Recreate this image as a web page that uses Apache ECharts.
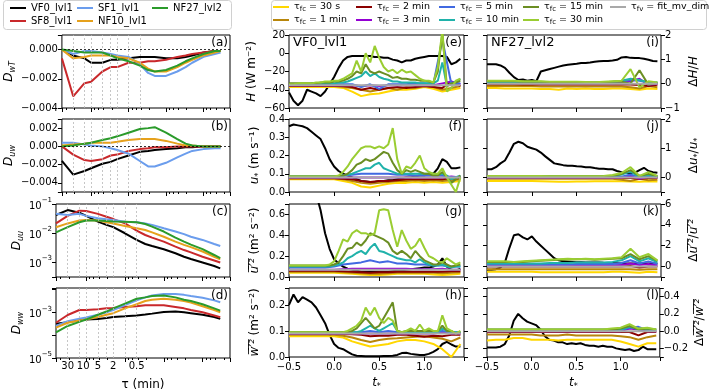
<!DOCTYPE html>
<html>
<head>
<meta charset="utf-8">
<script src="https://cdn.jsdelivr.net/npm/echarts@6/dist/echarts.min.js"></script>
<style>
html, body { margin: 0; padding: 0; background: #fff; }
#chart { width: 709px; height: 392px; }
</style>
</head>
<body>
<div id="chart"></div>
<script>
// ---------- data: left column, D(tau) per site ----------
var tau = [60, 30, 15, 10, 5, 3, 2, 1, 0.5, 0.3, 0.2, 0.1, 0.05, 0.03, 0.02, 0.01, 0.005, 0.0035];
var tauMarks = [30, 15, 10, 5, 3, 2, 1, 0.5];
var tauMarkLabels = ['30', '', '10', '5', '', '2', '', '0.5'];
var sites = ['VF0_lvl1', 'SF8_lvl1', 'SF1_lvl1', 'NF10_lvl1', 'NF27_lvl2'];

var dwT_VF0 = [0, -0.0004, -0.0006, -0.0009, -0.0009, -0.0007, -0.0007, -0.0006, -0.0005, -0.0005, -0.0005, -0.0006, -0.0006, -0.0005, -0.0004, -0.0002, -0.0001, -0.0001];
var dwT_SF8 = [-0.0006, -0.0032, -0.0023, -0.0022, -0.0015, -0.0012, -0.0012, -0.0009, -0.0009, -0.0008, -0.0008, -0.0007, -0.0005, -0.0004, -0.0003, -0.0002, -0.0001, -0.0001];
var dwT_SF1 = [0, -0.0003, -0.0001, -0.0001, -0.0002, -0.0003, -0.0004, -0.0005, -0.001, -0.0016, -0.0018, -0.0018, -0.0015, -0.0012, -0.0009, -0.0005, -0.0003, -0.0002];
var dwT_NF10 = [0, -0.0006, -0.0005, -0.0004, -0.0004, -0.0004, -0.0005, -0.0006, -0.0009, -0.0013, -0.0015, -0.0015, -0.0012, -0.0009, -0.0007, -0.0004, -0.0002, -0.0001];
var dwT_NF27 = [0, -0.0001, -0.0002, -0.0002, -0.0002, -0.0004, -0.0006, -0.0008, -0.0011, -0.0014, -0.0015, -0.0014, -0.0011, -0.0008, -0.0006, -0.0003, -0.0001, -0.0001];

var duw_VF0 = [-0.0016, -0.0031, -0.0027, -0.0024, -0.0019, -0.0017, -0.0014, -0.001, -0.0006, -0.0005, -0.0004, -0.0003, -0.0002, -0.0001, -0.0001, 0, 0, 0];
var duw_SF8 = [0, -0.0009, -0.0015, -0.0016, -0.0014, -0.001, -0.0009, -0.0005, -0.0003, -0.0002, -0.0001, -0.0001, 0, 0, 0, 0, 0, 0];
var duw_SF1 = [0.0004, 0.0004, 0.0002, 0.0001, 0, -0.0002, -0.0004, -0.0008, -0.0016, -0.0022, -0.0022, -0.0018, -0.0012, -0.0008, -0.0005, -0.0003, -0.0002, -0.0002];
var duw_NF10 = [0.0001, 0.0002, 0.0003, 0.0004, 0.0004, 0.0004, 0.0005, 0.0007, 0.0008, 0.0008, 0.0008, 0.0006, 0.0003, 0.0001, 0.0001, 0, 0, 0];
var duw_NF27 = [0, 0.0001, 0.0003, 0.0004, 0.0007, 0.0009, 0.0011, 0.0015, 0.0019, 0.002, 0.0021, 0.0015, 0.0008, 0.0003, 0.0001, 0, 0, 0];

// log10 of D_uu and D_ww
var logDuu_VF0 = [-1.38, -1.21, -1.30, -1.41, -1.61, -1.72, -1.80, -2.01, -2.24, -2.38, -2.45, -2.56, -2.70, -2.82, -2.90, -3.02, -3.14, -3.22];
var logDuu_SF8 = [-1.67, -1.41, -1.23, -1.24, -1.34, -1.44, -1.52, -1.67, -1.92, -2.07, -2.16, -2.30, -2.47, -2.59, -2.67, -2.82, -2.95, -3.02];
var logDuu_SF1 = [-1.34, -1.38, -1.34, -1.41, -1.49, -1.53, -1.55, -1.61, -1.63, -1.67, -1.72, -1.84, -1.95, -2.04, -2.13, -2.24, -2.38, -2.45];
var logDuu_NF10 = [-1.80, -1.67, -1.57, -1.55, -1.57, -1.63, -1.67, -1.76, -1.84, -1.90, -1.98, -2.13, -2.30, -2.41, -2.49, -2.64, -2.82, -2.91];
var logDuu_NF27 = [-1.98, -1.80, -1.63, -1.57, -1.57, -1.59, -1.60, -1.61, -1.63, -1.69, -1.78, -1.95, -2.16, -2.30, -2.40, -2.56, -2.76, -2.87];

var logDww_VF0 = [-3.50, -3.44, -3.35, -3.32, -3.29, -3.25, -3.21, -3.18, -3.14, -3.10, -3.06, -2.99, -2.97, -3.00, -3.04, -3.11, -3.21, -3.29];
var logDww_SF8 = [-3.46, -3.12, -2.90, -2.90, -2.87, -2.83, -2.81, -2.77, -2.74, -2.69, -2.69, -2.69, -2.77, -2.83, -2.90, -3.00, -3.14, -3.22];
var logDww_SF1 = [-3.60, -3.39, -3.28, -3.23, -3.11, -3.00, -2.90, -2.69, -2.48, -2.35, -2.27, -2.20, -2.20, -2.24, -2.29, -2.37, -2.48, -2.56];
var logDww_NF10 = [-3.67, -3.46, -3.36, -3.32, -3.21, -3.11, -3.04, -2.83, -2.65, -2.51, -2.45, -2.41, -2.45, -2.51, -2.58, -2.74, -2.90, -3.00];
var logDww_NF27 = [-3.88, -3.60, -3.42, -3.32, -3.11, -2.97, -2.83, -2.62, -2.41, -2.35, -2.29, -2.27, -2.35, -2.45, -2.51, -2.65, -2.83, -2.93];

// ---------- data: time series (t*) ----------
var tFine = [-0.5, -0.45, -0.4, -0.35, -0.3, -0.25, -0.2, -0.15, -0.1, -0.05, 0, 0.05, 0.1, 0.15, 0.2, 0.25, 0.3, 0.35, 0.4, 0.45, 0.5, 0.55, 0.6, 0.65, 0.7, 0.75, 0.8, 0.85, 0.9, 0.95, 1.0, 1.05, 1.1, 1.15, 1.2, 1.25, 1.3, 1.35, 1.4];
var tCoarse = [-0.5, -0.4, -0.3, -0.2, -0.1, 0, 0.1, 0.2, 0.3, 0.4, 0.5, 0.6, 0.7, 0.8, 0.9, 1.0, 1.1, 1.2, 1.3, 1.4];

// H (e)
var H_obs = [-43, -52, -57, -52, -40, -42, -44, -47, -42, -34, -26, -16, -8, -4, -3, -3, -3, -3, -3, -4, -4, -5, -5, -7, -8, -10, -8, -8, -6, -5, -4, -3, -3, -3, -3, -4, -12, -10, -6];
var H_30m = [-34, -34, -33, -33, -33, -33, -32, -32, -31, -31, -30, -30, -28, -25, -22, -8, -20, 0, -10, 8, -5, -15, -20, -18, -22, -18, -21, -20, -24, -28, -30, -30, -32, -15, 25, -42, -38, -30, -28];
var H_15m = [-33, -33, -33, -33, -33, -33, -33, -32, -32, -32, -31, -31, -30, -28, -25, -20, -22, -12, -20, -22, -20, -22, -24, -27, -26, -28, -28, -29, -29, -30, -30, -31, -32, -20, 22, -36, -33, -32, -30];
var H_10m = [-34, -34, -34, -34, -34, -33, -33, -33, -33, -33, -33, -32, -32, -31, -29, -27, -25, -20, -25, -22, -26, -28, -29, -31, -31, -32, -32, -32, -32, -33, -33, -33, -33, -30, -10, -36, -33, -31, -28];
var H_5m = [-34, -34, -34, -34, -34, -34, -34, -34, -37, -34, -39, -34, -34, -34, -33, -33, -34, 15, -34, -33];
var H_3m = [-35, -35, -35, -35, -35, -35, -35, -35, -36, -35, -36, -35, -35, -35, -35, -35, -35, -33, -31, -34];
var H_2m = [-36, -36, -36, -36, -36, -36, -36, -37, -40, -38, -40, -38, -37, -38, -37, -36, -37, -38, -31, -36];
var H_1m = [-36, -36, -36, -36, -36, -36, -37, -38, -40, -42, -40, -38, -40, -37, -38, -36, -37, -40, -38, -36];
var H_30s = [-37, -37, -37, -37, -37, -37, -38, -42, -47, -45, -44, -42, -40, -40, -39, -37, -39, -42, -40, -38];
var H_fv = [-35, -35, -35, -35, -35, -35, -35, -35, -35, -35, -35, -35, -35, -35, -35, -35, -35, -35, -35, -35];

// dH/H (i)
var dH_obs = [0.8, 0.8, 0.8, 0.75, 0.65, 0.45, 0.27, 0.15, 0.17, 0.12, 0.15, 0.1, 0.5, 0.55, 0.6, 0.65, 0.7, 0.75, 0.78, 0.8, 0.82, 0.85, 0.85, 0.87, 0.9, 0.92, 0.93, 0.93, 0.95, 0.98, 1.08, 1.1, 1.06, 1.05, 1.05, 1.02, 0.98, 0.93, 0.92];
var dH_30m = [0.12, 0.12, 0.12, 0.12, 0.1, 0.1, 0.1, 0.08, 0.08, 0.08, 0.08, 0.07, 0.06, 0.08, 0.1, 0.12, 0.6, -0.15, 0.1, 0.05];
var dH_15m = [0.1, 0.1, 0.1, 0.1, 0.08, 0.08, 0.08, 0.06, 0.06, 0.06, 0.06, 0.05, 0.05, 0.06, 0.08, 0.08, 0.0, 0.55, -0.05, 0.05];
var dH_10m = [0.05, 0.05, 0.05, 0.05, 0.04, 0.04, 0.04, 0.04, 0.04, 0.04, 0.04, 0.04, 0.04, 0.05, 0.08, 0.12, 0.2, 0.15, 0.05, 0.05];
var dH_5m = [0.05, 0.05, 0.05, 0.04, 0.04, 0.04, 0.04, 0.04, 0.04, 0.04, 0.04, 0.04, 0.04, 0.05, 0.06, 0.1, 0.15, 0.12, 0.05, 0.03];
var dH_3m = [0.02, 0.02, 0.02, 0.02, 0.02, 0.02, 0.02, 0.02, 0.02, 0.02, 0.02, 0.02, 0.02, 0.02, 0.02, 0.05, 0.1, 0.2, -0.05, 0.0];
var dH_2m = [-0.02, -0.02, -0.02, -0.02, -0.03, -0.03, -0.03, -0.03, -0.03, -0.03, -0.03, -0.03, -0.03, -0.03, -0.03, -0.03, -0.03, -0.05, -0.1, -0.05];
var dH_1m = [-0.1, -0.1, -0.1, -0.1, -0.1, -0.1, -0.12, -0.12, -0.12, -0.12, -0.12, -0.12, -0.12, -0.12, -0.12, -0.12, -0.15, -0.2, -0.1, -0.15];
var dH_30s = [-0.18, -0.18, -0.2, -0.2, -0.2, -0.2, -0.22, -0.22, -0.25, -0.2, -0.22, -0.2, -0.22, -0.22, -0.2, -0.2, -0.22, -0.25, -0.2, -0.22];
var dH_fv = [0, 0, 0, 0, 0, 0, 0, 0, 0, 0, 0, 0, 0, 0, 0, 0, 0, 0, 0, 0];

// u* (f)
var us_obs = [0.36, 0.37, 0.365, 0.36, 0.35, 0.33, 0.31, 0.29, 0.24, 0.18, 0.14, 0.115, 0.1, 0.09, 0.08, 0.07, 0.06, 0.058, 0.055, 0.055, 0.06, 0.06, 0.065, 0.065, 0.07, 0.075, 0.08, 0.08, 0.085, 0.09, 0.09, 0.1, 0.1, 0.13, 0.18, 0.165, 0.13, 0.13, 0.135];
var us_30m = [0.085, 0.085, 0.085, 0.085, 0.085, 0.085, 0.085, 0.085, 0.085, 0.085, 0.085, 0.09, 0.11, 0.14, 0.18, 0.21, 0.24, 0.25, 0.25, 0.24, 0.25, 0.24, 0.26, 0.35, 0.18, 0.1, 0.14, 0.13, 0.16, 0.2, 0.13, 0.11, 0.1, 0.1, 0.13, 0.08, 0.04, 0.0, 0.08];
var us_15m = [0.085, 0.085, 0.085, 0.085, 0.085, 0.085, 0.085, 0.085, 0.085, 0.085, 0.085, 0.088, 0.09, 0.1, 0.12, 0.15, 0.16, 0.18, 0.17, 0.18, 0.2, 0.22, 0.21, 0.16, 0.12, 0.1, 0.12, 0.11, 0.12, 0.11, 0.1, 0.1, 0.09, 0.09, 0.11, 0.08, 0.05, 0.07, 0.09];
var us_10m = [0.085, 0.085, 0.085, 0.085, 0.085, 0.085, 0.085, 0.085, 0.085, 0.085, 0.085, 0.085, 0.09, 0.095, 0.1, 0.11, 0.12, 0.13, 0.13, 0.15, 0.16, 0.13, 0.12, 0.11, 0.1, 0.1, 0.1, 0.1, 0.1, 0.1, 0.1, 0.1, 0.1, 0.095, 0.1, 0.09, 0.07, 0.08, 0.09];
var us_5m = [0.085, 0.085, 0.085, 0.085, 0.085, 0.085, 0.09, 0.095, 0.1, 0.1, 0.1, 0.1, 0.095, 0.095, 0.09, 0.09, 0.09, 0.09, 0.08, 0.085];
var us_3m = [0.08, 0.08, 0.08, 0.08, 0.08, 0.08, 0.08, 0.08, 0.08, 0.08, 0.08, 0.08, 0.08, 0.08, 0.08, 0.08, 0.08, 0.08, 0.085, 0.08];
var us_2m = [0.075, 0.075, 0.075, 0.075, 0.075, 0.075, 0.072, 0.07, 0.06, 0.055, 0.06, 0.06, 0.065, 0.07, 0.07, 0.07, 0.07, 0.07, 0.075, 0.075];
var us_1m = [0.075, 0.075, 0.075, 0.075, 0.075, 0.075, 0.07, 0.06, 0.05, 0.045, 0.05, 0.055, 0.06, 0.06, 0.065, 0.06, 0.065, 0.06, 0.065, 0.07];
var us_30s = [0.07, 0.07, 0.07, 0.07, 0.07, 0.07, 0.06, 0.05, 0.03, 0.025, 0.035, 0.045, 0.05, 0.05, 0.055, 0.05, 0.055, 0.05, 0.055, 0.06];
var us_fv = [0.08, 0.08, 0.08, 0.08, 0.08, 0.08, 0.08, 0.08, 0.08, 0.08, 0.08, 0.08, 0.08, 0.08, 0.08, 0.08, 0.08, 0.08, 0.08, 0.08];

// du*/u* (j)
var dus_obs = [0.28, 0.28, 0.35, 0.48, 0.58, 0.85, 1.15, 1.22, 1.17, 1.05, 1.0, 0.95, 0.85, 0.72, 0.6, 0.48, 0.45, 0.42, 0.4, 0.4, 0.38, 0.37, 0.35, 0.35, 0.32, 0.3, 0.3, 0.28, 0.28, 0.22, 0.18, 0.15, 0.14, 0.16, 0.25, 0.33, 0.22, 0.18, 0.16];
var dus_30m = [0.05, 0.05, 0.05, 0.05, 0.05, 0.05, 0.05, 0.04, 0.04, 0.04, 0.04, 0.04, 0.04, 0.05, 0.08, 0.15, 0.35, 0.05, 0.18, 0.05];
var dus_15m = [0.04, 0.04, 0.04, 0.04, 0.04, 0.04, 0.04, 0.04, 0.04, 0.04, 0.04, 0.04, 0.04, 0.04, 0.06, 0.12, 0.25, 0.05, 0.12, 0.04];
var dus_10m = [0.03, 0.03, 0.03, 0.03, 0.03, 0.03, 0.03, 0.03, 0.03, 0.03, 0.03, 0.03, 0.03, 0.03, 0.04, 0.1, 0.2, 0.02, 0.08, 0.03];
var dus_5m = [0.02, 0.02, 0.02, 0.02, 0.02, 0.02, 0.02, 0.02, 0.02, 0.02, 0.02, 0.02, 0.02, 0.02, 0.02, 0.02, 0.1, 0.0, 0.05, 0.02];
var dus_3m = [0, 0, 0, 0, 0, 0, 0, 0, 0, 0, 0, 0, 0, 0, 0, 0, 0.05, -0.05, 0.02, 0];
var dus_2m = [-0.02, -0.02, -0.02, -0.02, -0.02, -0.02, -0.02, -0.02, -0.02, -0.02, -0.02, -0.02, -0.02, -0.02, -0.02, -0.02, -0.02, -0.05, -0.02, -0.02];
var dus_1m = [-0.05, -0.05, -0.05, -0.05, -0.05, -0.05, -0.05, -0.05, -0.05, -0.05, -0.05, -0.05, -0.05, -0.05, -0.05, -0.08, -0.12, -0.05, -0.1, -0.08];
var dus_30s = [-0.12, -0.12, -0.12, -0.12, -0.12, -0.12, -0.13, -0.14, -0.15, -0.15, -0.14, -0.14, -0.13, -0.13, -0.13, -0.13, -0.14, -0.15, -0.13, -0.14];
var dus_fv = [0, 0, 0, 0, 0, 0, 0, 0, 0, 0, 0, 0, 0, 0, 0, 0, 0, 0, 0, 0];

// u'^2 (g)
var uu_obs = [1.2, 1.25, 1.3, 1.2, 1.1, 0.95, 0.8, 0.64, 0.42, 0.27, 0.17, 0.13, 0.1, 0.08, 0.07, 0.06, 0.05, 0.05, 0.05, 0.05, 0.05, 0.05, 0.05, 0.055, 0.06, 0.065, 0.07, 0.075, 0.08, 0.085, 0.09, 0.09, 0.1, 0.12, 0.18, 0.1, 0.07, 0.06, 0.08];
var uu_30m = [0.11, 0.11, 0.11, 0.11, 0.11, 0.11, 0.11, 0.11, 0.11, 0.12, 0.15, 0.25, 0.36, 0.34, 0.42, 0.45, 0.42, 0.42, 0.4, 0.42, 0.64, 0.65, 0.64, 0.45, 0.29, 0.45, 0.35, 0.27, 0.3, 0.37, 0.28, 0.2, 0.18, 0.15, 0.14, 0.18, 0.15, 0.12, 0.14];
var uu_15m = [0.11, 0.11, 0.11, 0.11, 0.11, 0.11, 0.11, 0.11, 0.11, 0.11, 0.12, 0.14, 0.2, 0.27, 0.28, 0.33, 0.3, 0.35, 0.42, 0.4, 0.38, 0.36, 0.33, 0.25, 0.22, 0.25, 0.22, 0.18, 0.25, 0.2, 0.16, 0.14, 0.12, 0.12, 0.14, 0.12, 0.1, 0.11, 0.12];
var uu_10m = [0.1, 0.1, 0.1, 0.1, 0.1, 0.1, 0.1, 0.1, 0.1, 0.1, 0.11, 0.12, 0.14, 0.18, 0.2, 0.23, 0.25, 0.22, 0.28, 0.32, 0.25, 0.24, 0.22, 0.2, 0.18, 0.17, 0.16, 0.16, 0.14, 0.17, 0.14, 0.12, 0.11, 0.11, 0.12, 0.1, 0.09, 0.1, 0.1];
var uu_5m = [0.09, 0.09, 0.09, 0.09, 0.09, 0.1, 0.12, 0.13, 0.14, 0.16, 0.14, 0.15, 0.13, 0.13, 0.12, 0.12, 0.11, 0.11, 0.1, 0.1];
var uu_3m = [0.07, 0.07, 0.07, 0.07, 0.07, 0.07, 0.075, 0.08, 0.08, 0.08, 0.08, 0.08, 0.08, 0.08, 0.075, 0.075, 0.075, 0.08, 0.07, 0.07];
var uu_2m = [0.06, 0.06, 0.06, 0.06, 0.06, 0.06, 0.055, 0.05, 0.045, 0.04, 0.045, 0.045, 0.05, 0.05, 0.05, 0.05, 0.05, 0.05, 0.055, 0.055];
var uu_1m = [0.05, 0.05, 0.05, 0.05, 0.05, 0.05, 0.045, 0.04, 0.035, 0.03, 0.03, 0.035, 0.04, 0.04, 0.04, 0.04, 0.04, 0.035, 0.04, 0.045];
var uu_30s = [0.04, 0.04, 0.04, 0.04, 0.04, 0.04, 0.035, 0.03, 0.025, 0.02, 0.02, 0.025, 0.03, 0.03, 0.03, 0.03, 0.025, 0.02, 0.025, 0.03];
var uu_fv = [0.07, 0.07, 0.07, 0.07, 0.07, 0.07, 0.07, 0.07, 0.07, 0.07, 0.07, 0.07, 0.07, 0.07, 0.07, 0.07, 0.07, 0.07, 0.07, 0.07];

// du'^2/u'^2 (k)
var duu_obs = [-0.3, -0.3, -0.25, -0.1, 0.4, 1.8, 3.0, 3.1, 2.8, 2.6, 2.9, 2.4, 2.0, 1.6, 1.2, 0.8, 0.6, 0.5, 0.45, 0.45, 0.42, 0.42, 0.4, 0.4, 0.4, 0.38, 0.36, 0.35, 0.34, 0.32, 0.3, 0.3, 0.3, 0.3, 0.3, 0.3, 0.3, 0.3, 0.3];
var duu_30m = [0.5, 0.5, 0.5, 0.45, 0.5, 0.55, 0.6, 0.65, 0.7, 0.75, 0.7, 0.75, 0.7, 0.75, 0.8, 0.9, 1.7, 0.9, 1.2, 0.6];
var duu_15m = [0.45, 0.45, 0.45, 0.45, 0.45, 0.5, 0.55, 0.6, 0.65, 0.65, 0.7, 0.7, 0.65, 0.7, 0.75, 0.8, 1.2, 0.7, 1.0, 0.55];
var duu_10m = [0.3, 0.3, 0.3, 0.3, 0.3, 0.3, 0.3, 0.35, 0.35, 0.35, 0.4, 0.4, 0.4, 0.4, 0.45, 0.6, 1.0, 0.5, 0.8, 0.4];
var duu_5m = [0.2, 0.2, 0.2, 0.2, 0.2, 0.2, 0.2, 0.2, 0.2, 0.2, 0.25, 0.25, 0.25, 0.25, 0.25, 0.35, 0.6, 0.3, 0.5, 0.25];
var duu_3m = [0.1, 0.1, 0.1, 0.1, 0.1, 0.1, 0.1, 0.1, 0.1, 0.1, 0.1, 0.1, 0.1, 0.1, 0.1, 0.15, 0.3, 0.15, 0.25, 0.1];
var duu_2m = [0, 0, 0, 0, 0, 0, 0, 0, 0, 0, 0, 0, 0, 0, 0, 0, 0.05, -0.1, 0, 0];
var duu_1m = [-0.25, -0.25, -0.25, -0.25, -0.25, -0.25, -0.25, -0.25, -0.25, -0.25, -0.25, -0.25, -0.25, -0.25, -0.25, -0.25, -0.25, -0.3, -0.25, -0.25];
var duu_30s = [-0.5, -0.5, -0.5, -0.5, -0.5, -0.5, -0.55, -0.55, -0.55, -0.55, -0.55, -0.55, -0.55, -0.55, -0.5, -0.5, -0.55, -0.6, -0.5, -0.55];
var duu_fv = [0, 0, 0, 0, 0, 0, 0, 0, 0, 0, 0, 0, 0, 0, 0, 0, 0, 0, 0, 0];

// w'^2 (h)
var ww_obs = [0.2, 0.24, 0.21, 0.23, 0.22, 0.21, 0.19, 0.16, 0.13, 0.085, 0.05, 0.035, 0.03, 0.02, 0.01, 0.005, 0.004, 0.003, 0.003, 0.003, 0.003, 0.004, 0.004, 0.005, 0.008, 0.015, 0.016, 0.012, 0.01, 0.008, 0.008, 0.012, 0.02, 0.03, 0.05, 0.058, 0.048, 0.04, 0.04];
var ww_30m = [0.095, 0.095, 0.095, 0.095, 0.095, 0.095, 0.095, 0.095, 0.095, 0.095, 0.095, 0.095, 0.095, 0.1, 0.11, 0.12, 0.14, 0.19, 0.16, 0.19, 0.15, 0.13, 0.15, 0.14, 0.1, 0.095, 0.1, 0.11, 0.1, 0.125, 0.1, 0.11, 0.1, 0.1, 0.16, 0.11, 0.1, 0.09, 0.1];
var ww_15m = [0.095, 0.095, 0.095, 0.095, 0.095, 0.095, 0.095, 0.095, 0.095, 0.095, 0.095, 0.095, 0.095, 0.095, 0.1, 0.11, 0.13, 0.15, 0.13, 0.11, 0.12, 0.15, 0.18, 0.21, 0.1, 0.095, 0.1, 0.1, 0.1, 0.1, 0.1, 0.1, 0.1, 0.1, 0.12, 0.1, 0.1, 0.09, 0.095];
var ww_10m = [0.095, 0.095, 0.095, 0.095, 0.095, 0.095, 0.095, 0.095, 0.095, 0.095, 0.095, 0.095, 0.095, 0.095, 0.095, 0.095, 0.1, 0.11, 0.12, 0.11, 0.1, 0.11, 0.12, 0.13, 0.1, 0.095, 0.095, 0.095, 0.095, 0.095, 0.095, 0.095, 0.095, 0.095, 0.11, 0.1, 0.095, 0.095, 0.095];
var ww_5m = [0.092, 0.092, 0.092, 0.092, 0.092, 0.092, 0.092, 0.095, 0.095, 0.1, 0.095, 0.1, 0.095, 0.095, 0.095, 0.095, 0.095, 0.1, 0.095, 0.095];
var ww_3m = [0.09, 0.09, 0.09, 0.09, 0.09, 0.09, 0.09, 0.09, 0.09, 0.09, 0.09, 0.09, 0.09, 0.09, 0.09, 0.09, 0.09, 0.095, 0.09, 0.09];
var ww_2m = [0.088, 0.088, 0.088, 0.088, 0.088, 0.088, 0.088, 0.087, 0.085, 0.08, 0.082, 0.082, 0.085, 0.085, 0.082, 0.078, 0.082, 0.08, 0.085, 0.085];
var ww_1m = [0.085, 0.085, 0.085, 0.085, 0.085, 0.085, 0.082, 0.075, 0.065, 0.058, 0.065, 0.07, 0.072, 0.075, 0.078, 0.08, 0.075, 0.07, 0.06, 0.075];
var ww_30s = [0.08, 0.08, 0.08, 0.08, 0.08, 0.08, 0.075, 0.06, 0.05, 0.04, 0.045, 0.05, 0.06, 0.065, 0.065, 0.06, 0.05, 0.03, 0.0, 0.05];
var ww_fv = [0.09, 0.09, 0.09, 0.09, 0.09, 0.09, 0.09, 0.09, 0.09, 0.09, 0.09, 0.09, 0.09, 0.09, 0.09, 0.09, 0.09, 0.09, 0.09, 0.09];

// dw'^2/w'^2 (l)
var dww_obs = [-0.19, -0.19, -0.19, -0.18, -0.15, -0.05, 0.12, 0.2, 0.15, 0.11, 0.09, 0.07, 0.02, -0.06, -0.1, -0.11, -0.13, -0.13, -0.15, -0.14, -0.15, -0.14, -0.16, -0.17, -0.17, -0.18, -0.17, -0.18, -0.18, -0.2, -0.21, -0.22, -0.21, -0.23, -0.22, -0.18, -0.21, -0.21, -0.21];
var dww_30m = [0.02, 0.02, 0.02, 0.02, 0.02, 0.02, 0.02, 0.02, 0.02, 0.02, 0.02, 0.02, 0.02, 0.02, 0.03, 0.04, 0.08, 0.03, 0.04, 0.02];
var dww_15m = [0.02, 0.02, 0.02, 0.02, 0.02, 0.02, 0.02, 0.02, 0.02, 0.02, 0.02, 0.02, 0.02, 0.02, 0.02, 0.03, 0.06, 0.02, 0.03, 0.02];
var dww_10m = [0.015, 0.015, 0.015, 0.015, 0.015, 0.015, 0.015, 0.015, 0.015, 0.015, 0.015, 0.015, 0.015, 0.015, 0.015, 0.015, 0.05, 0.02, 0.02, 0.015];
var dww_5m = [0.01, 0.01, 0.01, 0.01, 0.01, 0.01, 0.01, 0.01, 0.01, 0.01, 0.01, 0.01, 0.01, 0.01, 0.01, 0.01, 0.04, 0.05, 0.01, 0.01];
var dww_3m = [0, 0, 0, 0, 0, 0, 0, 0, 0, 0, 0, 0, 0, 0, 0, 0, 0.03, 0.02, 0, 0];
var dww_2m = [-0.01, -0.01, -0.01, -0.01, -0.01, -0.01, -0.01, -0.01, -0.01, -0.01, -0.01, -0.01, -0.01, -0.01, -0.01, -0.01, -0.01, -0.05, -0.01, -0.01];
var dww_1m = [-0.04, -0.04, -0.04, -0.04, -0.04, -0.04, -0.05, -0.05, -0.05, -0.04, -0.05, -0.05, -0.05, -0.05, -0.05, -0.06, -0.07, -0.1, -0.07, -0.05];
var dww_30s = [-0.11, -0.1, -0.1, -0.08, -0.08, -0.1, -0.1, -0.1, -0.11, -0.1, -0.1, -0.1, -0.1, -0.1, -0.1, -0.12, -0.15, -0.18, -0.14, -0.14];
var dww_fv = [0, 0, 0, 0, 0, 0, 0, 0, 0, 0, 0, 0, 0, 0, 0, 0, 0, 0, 0, 0];

// ---------- styles ----------
var FONT = 'DejaVu Sans';
var siteColors = ['#000000', '#c9282b', '#6b9ded', '#e6a11c', '#2b9b2b'];
var tauKeys = ['fc30s', 'fc1', 'fc2', 'fc3', 'fc5', 'fc10', 'fc15', 'fc30', 'fv'];
var tauColors = ['#ffd700', '#b8860b', '#8b0000', '#9400d3', '#4169e1', '#20b2aa', '#6b8e23', '#9acd32', '#a9a9a9'];
var tauLegendText = {
  fc30s: '\u03c4{s|fc} = 30 s', fc1: '\u03c4{s|fc} = 1 min', fc2: '\u03c4{s|fc} = 2 min',
  fc3: '\u03c4{s|fc} = 3 min', fc5: '\u03c4{s|fc} = 5 min', fc10: '\u03c4{s|fc} = 10 min',
  fc15: '\u03c4{s|fc} = 15 min', fc30: '\u03c4{s|fc} = 30 min', fv: '\u03c4{s|fv} = fit_mv_dim'
};

// layout
var colLeft = [56, 289, 487];
var colWidth = [174, 175, 174];
var rowTop = [35, 119, 204, 288];
var rowHeight = 73;

function tickFmt(step, dec) {
  return function (v) {
    var k = v / step;
    if (Math.abs(k - Math.round(k)) > 1e-6) return '';
    if (Math.abs(v) < step * 1e-6) v = 0;
    return v.toFixed(dec).replace('-', '\u2212');
  };
}
function expFmt(shown) {
  return function (v) {
    var e = Math.round(v);
    if (Math.abs(v - e) > 1e-6 || shown.indexOf(e) < 0) return '';
    return '{b|10}{e|' + String(e).replace('-', '\u2212') + '}';
  };
}
function ovl(s) {
  return s.split('').map(function (c) { return c + '\u0305'; }).join('');
}

var nameRich = {
  i: { fontStyle: 'italic', fontSize: 12, lineHeight: 16, fontFamily: FONT, color: '#000' },
  s: { fontStyle: 'italic', fontSize: 8, lineHeight: 8, verticalAlign: 'bottom', fontFamily: FONT, color: '#000' }
};
var nameStyle = { fontSize: 12, lineHeight: 16, color: '#000', fontFamily: FONT, rich: nameRich };
var labelRich = {
  b: { fontSize: 10, lineHeight: 14, verticalAlign: 'bottom', fontFamily: FONT, color: '#000' },
  e: { fontSize: 7, lineHeight: 8, verticalAlign: 'top', fontFamily: FONT, color: '#000' }
};
var noLine = { show: false, onZero: false };

var grids = [], xAxes = [], yAxes = [], series = [], titles = [], legends = [];

function addGrid(col, row) {
  grids.push({ left: colLeft[col], top: rowTop[row], width: colWidth[col], height: rowHeight,
    show: true, borderColor: '#000', borderWidth: 1, backgroundColor: 'transparent' });
  return grids.length - 1;
}
function addY(cfg) { yAxes.push(cfg); return yAxes.length - 1; }
function yBase(g, p, pos, showLabel) {
  var a = { type: 'value', gridIndex: g, position: pos, min: p.min, max: p.max,
    axisLine: noLine, splitLine: { show: false },
    axisTick: { show: true, length: 4, lineStyle: { color: '#000' } },
    axisLabel: { show: showLabel, formatter: p.fmt, margin: 4, fontSize: 10, color: '#000', fontFamily: FONT, rich: labelRich } };
  if (p.interval) a.interval = p.interval;
  if (p.splitNumber) a.splitNumber = p.splitNumber;
  return a;
}
function pushLine(name, color, xs, ys, xi, yi) {
  var s = { type: 'line', name: name, xAxisIndex: xi, yAxisIndex: yi,
    data: xs.map(function (x, i) { return [x, ys[i]]; }),
    symbol: 'none', showSymbol: false, silent: true,
    lineStyle: { color: color, width: 2 }, itemStyle: { color: color } };
  series.push(s);
  return s;
}
function letter(text, col, row) {
  titles.push({ text: text, right: 709 - (colLeft[col] + colWidth[col]) + 2, top: rowTop[row] + 2, padding: 0,
    textStyle: { fontSize: 12, fontWeight: 'normal', color: '#000', fontFamily: FONT } });
}

// ---------- left column ----------
var leftPanels = [
  { letter: '(a)', name: '{i|D}{s|wT}', min: -0.004, max: 0.001, interval: 0.002, fmt: tickFmt(0.002, 3), zero: true,
    data: [dwT_VF0, dwT_SF8, dwT_SF1, dwT_NF10, dwT_NF27] },
  { letter: '(b)', name: '{i|D}{s|uw}', min: -0.005, max: 0.003, splitNumber: 4, fmt: tickFmt(0.002, 3), zero: true,
    data: [duw_VF0, duw_SF8, duw_SF1, duw_NF10, duw_NF27] },
  { letter: '(c)', name: '{i|D}{s|uu}', min: -3.52, max: -1, splitNumber: 2, fmt: expFmt([-3, -2, -1]),
    data: [logDuu_VF0, logDuu_SF8, logDuu_SF1, logDuu_NF10, logDuu_NF27] },
  { letter: '(d)', name: '{i|D}{s|ww}', min: -5, max: -1.94, interval: 1, fmt: expFmt([-5, -3]),
    data: [logDww_VF0, logDww_SF8, logDww_SF1, logDww_NF10, logDww_NF27] }
];

leftPanels.forEach(function (p, row) {
  var g = addGrid(0, row);
  var last = row === 3;
  xAxes.push({ type: 'log', gridIndex: g, inverse: true, min: 0.00196, max: 60,
    axisLine: noLine, splitLine: { show: false },
    axisTick: { show: true, length: 4, lineStyle: { color: '#000' } },
    minorTick: { show: true, splitNumber: 5, length: 2, lineStyle: { color: '#000' } },
    axisLabel: { show: false },
    name: last ? '\u03c4 (min)' : '', nameLocation: 'middle', nameGap: 21,
    nameTextStyle: { fontSize: 12, color: '#000', fontFamily: FONT } });
  var ya = yBase(g, p, 'left', true);
  ya.name = p.name; ya.nameLocation = 'middle'; ya.nameGap = 31; ya.nameRotate = 90; ya.nameTextStyle = nameStyle;
  var yi = addY(ya);
  p.data.forEach(function (vals, k) {
    var s = pushLine(sites[k], siteColors[k], tau, vals, g, yi);
    if (k === 0) {
      var marks = tauMarks.map(function (v, j) {
        var lab = { show: last, formatter: tauMarkLabels[j] };
        if (tauMarkLabels[j] === '10') lab.offset = [-3, 0];
        return { xAxis: v, label: lab };
      });
      if (p.zero) {
        marks.push({ yAxis: 0, lineStyle: { color: '#000', type: [2, 2], width: 0.8 }, label: { show: false } });
      }
      s.markLine = { silent: true, symbol: ['none', 'none'], animation: false,
        lineStyle: { color: '#b8b8b8', type: [2, 2], width: 0.8 },
        label: { position: 'start', distance: 3, color: '#000', fontSize: 10, fontFamily: FONT },
        data: marks };
    }
  });
  letter(p.letter, 0, row);
});

// ---------- middle and right columns ----------
var midPanels = [
  { letter: '(e)', name: '{i|H} (W m\u207b\u00b2)', min: -60, max: 20, interval: 20, fmt: tickFmt(20, 0),
    obs: H_obs, taus: [H_30s, H_1m, H_2m, H_3m, H_5m, H_10m, H_15m, H_30m, H_fv] },
  { letter: '(f)', name: '{i|u}{s|*} (m s\u207b\u00b9)', min: 0, max: 0.4, interval: 0.1, fmt: tickFmt(0.1, 1),
    obs: us_obs, taus: [us_30s, us_1m, us_2m, us_3m, us_5m, us_10m, us_15m, us_30m, us_fv] },
  { letter: '(g)', name: '{i|' + ovl('u\u2032\u00b2') + '} (m\u00b2 s\u207b\u00b2)', min: 0, max: 0.7, interval: 0.2, fmt: tickFmt(0.2, 1),
    obs: uu_obs, taus: [uu_30s, uu_1m, uu_2m, uu_3m, uu_5m, uu_10m, uu_15m, uu_30m, uu_fv] },
  { letter: '(h)', name: '{i|' + ovl('w\u2032\u00b2') + '} (m\u00b2 s\u207b\u00b2)', min: 0, max: 0.265, interval: 0.1, fmt: tickFmt(0.1, 1),
    obs: ww_obs, taus: [ww_30s, ww_1m, ww_2m, ww_3m, ww_5m, ww_10m, ww_15m, ww_30m, ww_fv] }
];
var rightPanels = [
  { letter: '(i)', name: '\u0394{i|H}/{i|H}', min: -1, max: 2, interval: 1, fmt: tickFmt(1, 0),
    obs: dH_obs, taus: [dH_30s, dH_1m, dH_2m, dH_3m, dH_5m, dH_10m, dH_15m, dH_30m, dH_fv] },
  { letter: '(j)', name: '\u0394{i|u}{s|*}/{i|u}{s|*}', min: -0.5, max: 2, splitNumber: 2, fmt: tickFmt(1, 0),
    obs: dus_obs, taus: [dus_30s, dus_1m, dus_2m, dus_3m, dus_5m, dus_10m, dus_15m, dus_30m, dus_fv] },
  { letter: '(k)', name: '\u0394{i|' + ovl('u\u2032\u00b2') + '}/{i|' + ovl('u\u2032\u00b2') + '}', min: -1, max: 6, splitNumber: 3, fmt: tickFmt(2, 0),
    obs: duu_obs, taus: [duu_30s, duu_1m, duu_2m, duu_3m, duu_5m, duu_10m, duu_15m, duu_30m, duu_fv] },
  { letter: '(l)', name: '\u0394{i|' + ovl('w\u2032\u00b2') + '}/{i|' + ovl('w\u2032\u00b2') + '}', min: -0.3, max: 0.5, splitNumber: 4, fmt: tickFmt(0.2, 1),
    obs: dww_obs, taus: [dww_30s, dww_1m, dww_2m, dww_3m, dww_5m, dww_10m, dww_15m, dww_30m, dww_fv] }
];

function timeX(g, last) {
  xAxes.push({ type: 'value', gridIndex: g, min: -0.5, max: 1.44, interval: 0.5,
    axisLine: noLine, splitLine: { show: false },
    axisTick: { show: true, length: 4, lineStyle: { color: '#000' } },
    axisLabel: { show: last, formatter: tickFmt(0.5, 1), margin: 5, fontSize: 10, color: '#000', fontFamily: FONT },
    name: last ? '{i|t}{s|*}' : '', nameLocation: 'middle', nameGap: 18, nameTextStyle: nameStyle });
}
function drawSeries(g, yi, p) {
  pushLine('obs', '#000', tFine, p.obs, g, yi);
  p.taus.forEach(function (vals, k) {
    var t = vals.length === tFine.length ? tFine : tCoarse;
    pushLine(tauKeys[k], tauColors[k], t, vals, g, yi);
  });
}

midPanels.forEach(function (p, row) {
  var g = addGrid(1, row);
  timeX(g, row === 3);
  var ya = yBase(g, p, 'left', true);
  ya.name = p.name; ya.nameLocation = 'middle'; ya.nameGap = 26; ya.nameRotate = 90; ya.nameTextStyle = nameStyle;
  var yi = addY(ya);
  addY(yBase(g, rightPanels[row], 'right', false)); // twin axis, ticks only
  drawSeries(g, yi, p);
  letter(p.letter, 1, row);
});

rightPanels.forEach(function (p, row) {
  var g = addGrid(2, row);
  timeX(g, row === 3);
  var ya = yBase(g, p, 'right', true);
  ya.name = p.name; ya.nameLocation = 'middle'; ya.nameGap = 25; ya.nameRotate = 90; ya.nameTextStyle = nameStyle;
  var yi = addY(ya);
  addY(yBase(g, p, 'left', false));
  drawSeries(g, yi, p);
  letter(p.letter, 2, row);
});

titles.push({ text: 'VF0_lvl1', left: 293, top: 36, padding: 0, textStyle: { fontSize: 13, fontWeight: 'normal', color: '#000', fontFamily: FONT } });
titles.push({ text: 'NF27_lvl2', left: 491, top: 36, padding: 0, textStyle: { fontSize: 13, fontWeight: 'normal', color: '#000', fontFamily: FONT } });

// ---------- legends (one component per entry, matplotlib column layout) ----------
var legendRich = { s: { fontSize: 7, lineHeight: 6, verticalAlign: 'bottom', fontFamily: FONT, color: '#000' } };
function addLegend(name, left, top, formatter, size) {
  legends.push({ data: [name], left: left, top: top, padding: 0, icon: 'rect', itemWidth: 16, itemHeight: 2,
    selectedMode: false, formatter: formatter,
    textStyle: { fontSize: size, color: '#000', fontFamily: FONT, lineHeight: 12, rich: legendRich } });
}
var siteLegendPos = [[10, 2], [10, 15], [77, 2], [77, 15], [152, 2]];
sites.forEach(function (n, k) { addLegend(n, siteLegendPos[k][0], siteLegendPos[k][1], '{name}', 10); });
var tauLegendPos = [[273, 1], [273, 14], [356, 1], [356, 14], [439, 1], [439, 14], [523, 1], [523, 14], [610, 1]];
tauKeys.forEach(function (n, k) {
  addLegend(n, tauLegendPos[k][0], tauLegendPos[k][1], function (nm) { return tauLegendText[nm]; }, 9.5);
});

var option = {
  animation: false,
  backgroundColor: '#fff',
  textStyle: { fontFamily: FONT },
  title: titles,
  legend: legends,
  grid: grids,
  xAxis: xAxes,
  yAxis: yAxes,
  series: series,
  graphic: [
    { type: 'rect', z: -10, shape: { x: 3.5, y: 0.5, width: 228, height: 29, r: 3 },
      style: { fill: 'rgba(255,255,255,0.8)', stroke: '#d0d0d0', lineWidth: 1 } },
    { type: 'rect', z: -10, shape: { x: 271.5, y: 0.5, width: 435, height: 29, r: 3 },
      style: { fill: 'rgba(255,255,255,0.8)', stroke: '#d0d0d0', lineWidth: 1 } }
  ]
};

var chart = echarts.init(document.getElementById('chart'));
chart.setOption(option);
</script>
</body>
</html>
